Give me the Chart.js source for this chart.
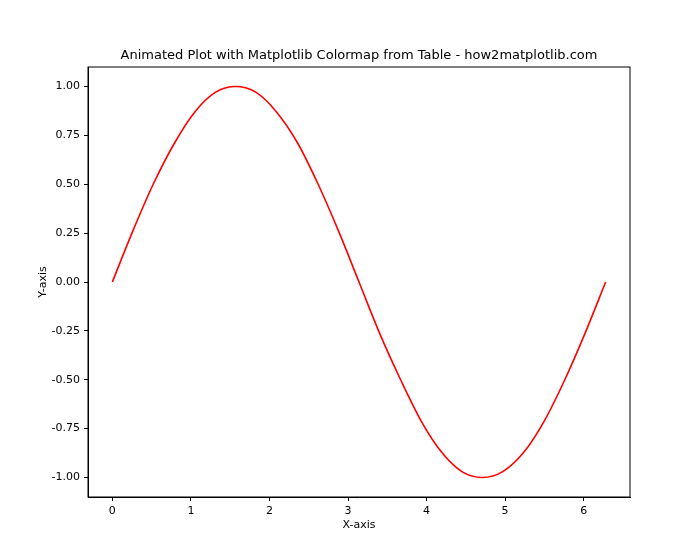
<!DOCTYPE html>
<html>
<head>
<meta charset="utf-8">
<script src="https://cdn.jsdelivr.net/npm/chart.js@4/dist/chart.umd.min.js"></script>
<style>
  body { margin: 0; background: #fff; }
  #wrap { width: 700px; height: 560px; }
</style>
</head>
<body>
<div id="wrap"><canvas id="plot"></canvas></div>
<script>
// values
const xs = [0, 0.26, 0.52, 0.79, 1.05, 1.31, 1.57, 1.83, 2.09, 2.36, 2.62, 2.88, 3.14,
  3.40, 3.67, 3.93, 4.19, 4.45, 4.71, 4.97, 5.24, 5.50, 5.76, 6.02, 6.28];
const ys = [0, 0.26, 0.5, 0.71, 0.87, 0.97, 1.0, 0.97, 0.87, 0.71, 0.5, 0.26, 0,
  -0.26, -0.5, -0.71, -0.87, -0.97, -1.0, -0.97, -0.87, -0.71, -0.5, -0.26, 0];
const xTicks = [0, 1, 2, 3, 4, 5, 6];
const yTicks = [-1, -0.75, -0.5, -0.25, 0, 0.25, 0.5, 0.75, 1];
const titleText = "Animated Plot with Matplotlib Colormap from Table - how2matplotlib.com";

const font = { family: "DejaVu Sans", size: 11 };
Chart.defaults.color = "#000";

new Chart(document.getElementById("plot"), {
  type: "line",
  data: {
    datasets: [{
      data: xs.map((x, i) => ({ x: x, y: ys[i] })),
      borderColor: "red",
      borderWidth: 1.6,
      pointRadius: 0,
      cubicInterpolationMode: "monotone",
      fill: false,
    }],
  },
  options: {
    responsive: true,
    maintainAspectRatio: false,
    animation: false,
    layout: { padding: { left: 37, right: 70, top: 67, bottom: 28 } },
    plugins: {
      legend: { display: false },
      tooltip: { enabled: false },
      title: { display: false },
    },
    scales: {
      x: {
        type: "linear",
        min: -0.31,
        max: 6.59,
        afterBuildTicks: (s) => { s.ticks = xTicks.map((v) => ({ value: v })); },
        afterFit: (s) => { s.height = 35; },
        ticks: { font: font, padding: 4, maxRotation: 0 },
        grid: { drawOnChartArea: false, tickLength: 4, color: "#000" },
        border: { color: "#000" },
        title: { display: true, text: "X-axis", font: font, padding: { top: 2, bottom: 0 } },
      },
      y: {
        min: -1.1,
        max: 1.1,
        afterBuildTicks: (s) => { s.ticks = yTicks.map((v) => ({ value: v })); },
        afterFit: (s) => { s.width = 51; },
        ticks: { font: font, padding: 4, callback: (v) => v.toFixed(2) },
        grid: { drawOnChartArea: false, tickLength: 4, color: "#000" },
        border: { color: "#000" },
        title: { display: true, text: "Y-axis", font: font, padding: { top: 0, bottom: 2 } },
      },
    },
  },
  plugins: [{
    id: "frame",
    afterDraw(chart) {
      const a = chart.chartArea, c = chart.ctx;
      c.save();
      c.strokeStyle = "#000";
      c.lineWidth = 1;
      c.strokeRect(a.left, a.top, a.right - a.left, a.bottom - a.top);
      c.font = "13px 'DejaVu Sans'";
      c.fillStyle = "#000";
      c.textAlign = "center";
      c.textBaseline = "bottom";
      c.fillText(titleText, (a.left + a.right) / 2, a.top - 5);
      c.restore();
    },
  }],
});
</script>
</body>
</html>
